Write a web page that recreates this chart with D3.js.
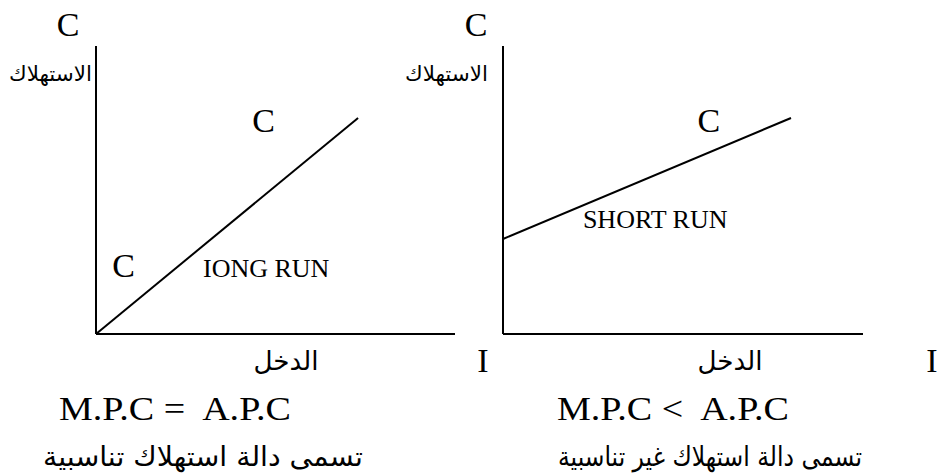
<!DOCTYPE html>
<html lang="ar">
<head>
    <meta charset="UTF-8">
    <title>دالة الاستهلاك</title>
    <script src="https://d3js.org/d3.v7.min.js"></script>
    <style>
        body { margin: 0; background: #fff; }
        svg { display: block; }
        .axis-line, .func { stroke: #000; stroke-width: 2; fill: none; }
        .latin { font-family: "Liberation Serif", "Times New Roman", serif; fill: #000; }
        .arabic { font-family: "DejaVu Sans", sans-serif; fill: #000; }
    </style>
</head>
<body>
<div id="chart"></div>
<script>
    // الدالتان (الدخل ، الاستهلاك)
    const longRun = [
        { income: 0, consumption: 0 },
        { income: 73, consumption: 75 }
    ];
    const shortRun = [
        { income: 0, consumption: 33 },
        { income: 80, consumption: 75 }
    ];

    // النصوص
    const axisYLabel = "الاستهلاك";
    const axisXLabel = "الدخل";
    const runLabels = ["IONG RUN", "SHORT RUN"];
    const relations = ["M.P.C =  A.P.C", "M.P.C <  A.P.C"];
    const captions = ["تسمى دالة استهلاك تناسبية", "تسمى دالة استهلاك غير تناسبية"];

    const W = 940, H = 475;
    const svg = d3.select("#chart").append("svg")
        .attr("width", W)
        .attr("height", H);

    function drawPanel(opt) {
        const x = d3.scaleLinear().domain([0, 100]).range([opt.left, opt.right]);
        const y = d3.scaleLinear().domain([0, 100]).range([334, 46]);
        const g = svg.append("g");

        // المحاور
        g.append("line").attr("class", "axis-line")
            .attr("x1", x(0)).attr("x2", x(0))
            .attr("y1", y(100)).attr("y2", y(0));
        g.append("line").attr("class", "axis-line")
            .attr("x1", x(0)).attr("x2", x(100))
            .attr("y1", y(0)).attr("y2", y(0));

        // دالة الاستهلاك
        const line = d3.line().x(d => x(d.income)).y(d => y(d.consumption));
        g.append("path").datum(opt.data)
            .attr("class", "func")
            .attr("d", line);

        // C فوق المحور
        g.append("text").attr("class", "latin")
            .attr("x", x(0) + opt.topCdx).attr("y", 36)
            .attr("text-anchor", "middle")
            .attr("font-size", 34)
            .text("C");

        g.append("text").attr("class", "arabic")
            .attr("x", x(0) + opt.yLabelDx).attr("y", 81)
            .attr("text-anchor", "end")
            .attr("font-size", 21)
            .attr("textLength", 83).attr("lengthAdjust", "spacingAndGlyphs")
            .text(axisYLabel);

        // C على المنحنى
        opt.cLabels.forEach(c => {
            g.append("text").attr("class", "latin")
                .attr("x", x(c[0])).attr("y", y(c[1]))
                .attr("text-anchor", "middle")
                .attr("font-size", 34)
                .text("C");
        });

        g.append("text").attr("class", "latin")
            .attr("x", x(opt.run[0])).attr("y", y(opt.run[1]))
            .attr("font-size", 26)
            .text(opt.runLabel);

        g.append("text").attr("class", "arabic")
            .attr("x", opt.xLabelX).attr("y", 370)
            .attr("text-anchor", "middle")
            .attr("font-size", 26)
            .attr("textLength", 65).attr("lengthAdjust", "spacingAndGlyphs")
            .text(axisXLabel);

        g.append("text").attr("class", "latin")
            .attr("x", opt.relX).attr("y", 420)
            .attr("font-size", 33)
            .attr("textLength", 232).attr("lengthAdjust", "spacingAndGlyphs")
            .style("white-space", "pre")
            .text(opt.relation);

        g.append("text").attr("class", "arabic")
            .attr("x", opt.capX).attr("y", 466)
            .attr("text-anchor", "middle")
            .attr("font-size", 27)
            .attr("textLength", opt.capW).attr("lengthAdjust", "spacingAndGlyphs")
            .text(opt.caption);
    }

    drawPanel({
        left: 96, right: 455, data: longRun,
        topCdx: -28, yLabelDx: -4,
        cLabels: [[46.7, 70], [7.7, 19.7]],
        run: [29.8, 19.7], runLabel: runLabels[0],
        xLabelX: 286, relX: 59, relation: relations[0],
        capX: 203, capW: 320, caption: captions[0]
    });

    drawPanel({
        left: 503, right: 863, data: shortRun,
        topCdx: -27, yLabelDx: -15,
        cLabels: [[57.2, 70]],
        run: [22.2, 36.8], runLabel: runLabels[1],
        xLabelX: 730, relX: 557, relation: relations[1],
        capX: 710, capW: 304, caption: captions[1]
    });

    // I تحت المحور الأفقي
    [483, 932].forEach(px => {
        svg.append("text").attr("class", "latin")
            .attr("x", px).attr("y", 372)
            .attr("text-anchor", "middle")
            .attr("font-size", 34)
            .text("I");
    });
</script>
</body>
</html>
